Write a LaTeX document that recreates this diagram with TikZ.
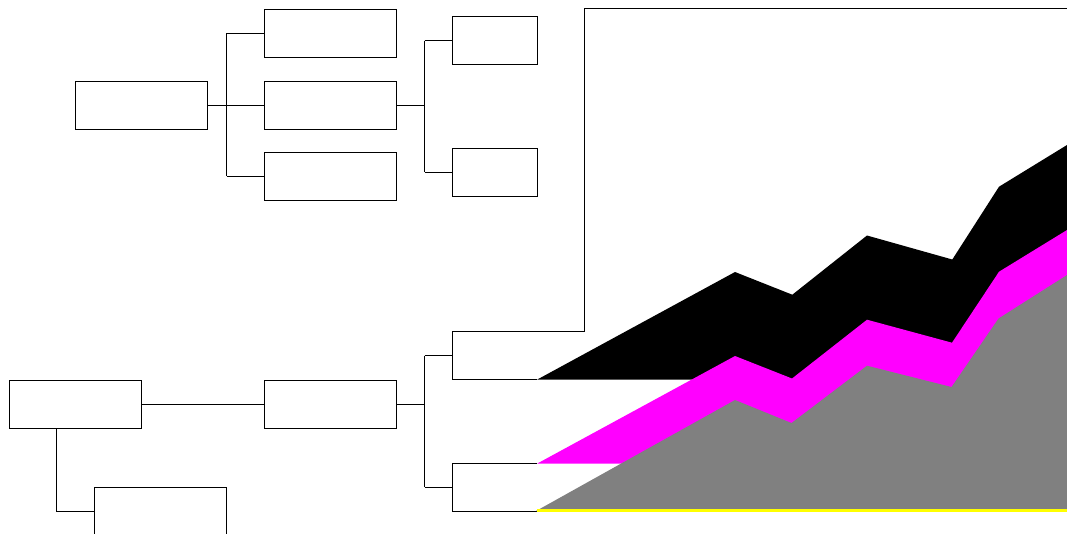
\documentclass[tikz,border=0pt]{standalone}
\definecolor{mag}{RGB}{255,0,255}
\definecolor{yel}{RGB}{255,255,0}
\definecolor{gry}{RGB}{128,128,128}
\begin{document}
\begin{tikzpicture}[x=0.75pt,y=-0.75pt,
  wbox/.style={draw=black,line width=0.75pt,rectangle,inner sep=0pt,minimum width=99pt,minimum height=36pt},
  sbox/.style={draw=black,line width=0.75pt,rectangle,inner sep=0pt,minimum width=63.75pt,minimum height=36pt},
  conn/.style={draw=black,line width=0.75pt}]
\useasboundingbox (0,0) rectangle (1067,533);
% upper tree
\node[wbox] (A) at (141.25,105) {};
\node[wbox] (B1) at (330,33) {};
\node[wbox] (B2) at (330,105) {};
\node[wbox] (B3) at (330,176) {};
\node[sbox] (C1) at (495,40.5) {};
\node[sbox] (C2) at (495,172) {};
\coordinate (j1) at (226.5,105);
\coordinate (j2) at (424.5,105);
\draw[conn] (A.east) -- (j1);
\draw[conn] (j1) -- (B2.west);
\draw[conn] (j1 |- B1.west) -- (j1 |- B3.west);
\draw[conn] (j1 |- B1.west) -- (B1.west);
\draw[conn] (j1 |- B3.west) -- (B3.west);
\draw[conn] (B2.east) -- (j2);
\draw[conn] (j2 |- C1.west) -- (j2 |- C2.west);
\draw[conn] (j2 |- C1.west) -- (C1.west);
\draw[conn] (j2 |- C2.west) -- (C2.west);
% lower tree
\node[wbox] (D) at (75.25,404) {};
\node[wbox] (E) at (330,404) {};
\node[wbox] (F) at (160.5,511) {};
\coordinate (Gw) at (452.5,355.5);
\coordinate (Hw) at (452.5,487);
\coordinate (j3) at (424.5,404);
\coordinate (j4) at (56,511);
\draw[conn] (D.east) -- (E.west);
\draw[conn] (D.south -| j4) -- (j4) -- (F.west);
\draw[conn] (E.east) -- (j3);
\draw[conn] (j3 |- Gw) -- (j3 |- Hw);
\draw[conn] (j3 |- Gw) -- (Gw);
\draw[conn] (j3 |- Hw) -- (Hw);
% partial frames
\draw[conn] (537.3,379.5) -- (452.5,379.5) -- (452.5,331.5) -- (584.5,331.5) -- (584.5,8.5) -- (1068,8.5);
\draw[conn] (537.3,463.5) -- (452.5,463.5) -- (452.5,511) -- (537,511);
% stacked bands
\fill[black] (537.3,379.5) -- (735,272) -- (792.3,294.7) -- (867,235.5) -- (952.3,259.5) -- (999,186.7) -- (1067,145) -- (1067,379.5) -- cycle;
\fill[mag] (537.3,463.5) -- (735,356) -- (792,378.5) -- (867,319.7) -- (952,342.7) -- (999,271.7) -- (1067,230) -- (1067,463.5) -- cycle;
\fill[gry] (536,511) -- (735,400) -- (791.5,423) -- (867,365.7) -- (951.5,387) -- (998.5,318.5) -- (1067,275) -- (1067,511) -- cycle;
\draw[yel,line width=1.9pt] (537,510.7) -- (1067,510.7);
\end{tikzpicture}
\end{document}
